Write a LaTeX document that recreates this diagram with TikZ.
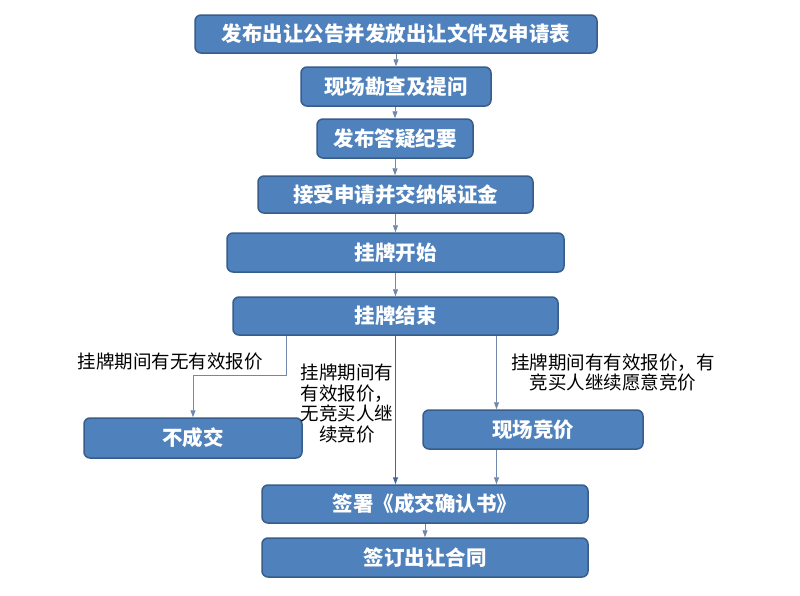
\documentclass[tikz,border=0pt]{standalone}
\usepackage{fontspec}
\setmainfont{Noto Sans CJK SC}
\usetikzlibrary{arrows.meta,calc}
\definecolor{boxfill}{HTML}{4F81BD}
\definecolor{boxdraw}{HTML}{385D8A}
\definecolor{arrcol}{HTML}{7088AA}
\definecolor{midcol}{HTML}{3E66A3}
\tikzset{
  box/.style={draw=boxdraw, line width=1.5pt, fill=boxfill, rounded corners=6pt,
    text=white, font=\fontsize{20.5}{24}\selectfont\bfseries, inner sep=0pt},
  arr/.style={draw=arrcol, line width=0.9pt, -{Triangle[length=7pt,width=5pt]}},
  midarr/.style={draw=midcol, line width=1pt, -{Triangle[length=7pt,width=5pt]}},
  lbl/.style={font=\fontsize{18.5}{20.5}\selectfont, text=black, align=center, inner sep=0pt}
}
\begin{document}
\begin{tikzpicture}[x=1pt,y=1pt]
\useasboundingbox[fill=white] (0,0) rectangle (800,-595);
\node[box, minimum width=402pt, minimum height=38pt] (b1) at (396,-34) {发布出让公告并发放出让文件及申请表};
\node[box, minimum width=190pt, minimum height=39pt] (b2) at (396,-86.5) {现场勘查及提问};
\node[box, minimum width=156pt, minimum height=39pt] (b3) at (395,-138.5) {发布答疑纪要};
\node[box, minimum width=275pt, minimum height=37pt] (b4) at (395.5,-194.5) {接受申请并交纳保证金};
\node[box, minimum width=337pt, minimum height=39pt] (b5) at (395.5,-252.5) {挂牌开始};
\node[box, minimum width=325pt, minimum height=38pt] (b6) at (395.5,-316) {挂牌结束};
\node[box, minimum width=218pt, minimum height=40pt] (b7) at (193,-438) {不成交};
\node[box, minimum width=220pt, minimum height=39pt] (b8) at (533,-429.5) {现场竞价};
\node[box, minimum width=326pt, minimum height=38pt] (b9) at (425,-504) {签署《成交确认书》};
\node[box, minimum width=326pt, minimum height=39pt] (b10) at (425,-557.5) {签订出让合同};

\node[lbl] (l1) at (170,-362) {挂牌期间有无有效报价};
\node[lbl] (l2) at (347,-403.5) {挂牌期间有\\有效报价，\\无竞买人继\\续竞价};
\node[lbl] (l3) at (613,-372.5) {挂牌期间有有效报价，有\\竞买人继续愿意竞价};

\coordinate (lc) at (286,-375);
\coordinate (rc) at (496.5,0);

\draw[arr] (b1.south) -- (b1.south |- b2.north);
\draw[arr] (b2.south -| b3.north) -- (b3.north);
\draw[arr] (b3.south) -- (b3.south |- b4.north);
\draw[arr] (b4.south) -- (b4.south |- b5.north);
\draw[arr] (b5.south) -- (b5.south |- b6.north);
\draw[arr] (lc |- b6.south) -- (lc) -| (b7.north);
\draw[midarr] (b6.south) -- (b6.south |- b9.north);
\draw[arr] (rc |- b6.south) -- (rc |- b8.north);
\draw[arr] (rc |- b8.south) -- (rc |- b9.north);
\draw[arr] (b9.south) -- (b10.north);
\end{tikzpicture}
\end{document}
